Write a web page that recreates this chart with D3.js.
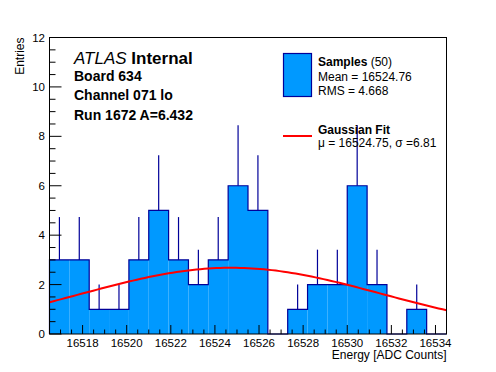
<!DOCTYPE html>
<html>
<head>
<meta charset="utf-8">
<script src="https://cdn.jsdelivr.net/npm/d3@7"></script>
<style>
  body { margin: 0; background: #fff; }
  text { font-family: "Liberation Sans", Arial, sans-serif; }
</style>
</head>
<body>
<script>
// histogram: 20 bins over the energy range
var xRange = [16516.5, 16534.5];
var counts = [3, 3, 1, 1, 3, 5, 3, 2, 3, 6, 5, 0, 1, 2, 2, 6, 2, 0, 1, 0];
var xTicks = [16518, 16520, 16522, 16524, 16526, 16528, 16530, 16532, 16534];
var yTicks = [0, 2, 4, 6, 8, 10, 12];

// gaussian fit parameters
var fitMu = 16524.75;
var fitSigma = 6.81;
var fitAmp = 2.68;

var infoLines = ["Board 634", "Channel 071 lo", "Run 1672 A=6.432"];

function init () {
  'use strict';
  var w = 496;
  var h = 372;
  var left = 49.5, right = 446.5, top = 37.5, bottom = 334;

  var svg = d3.select("body")
    .append("svg")
    .attr("width", w)
    .attr("height", h);

  var xScale = d3.scaleLinear()
    .domain(xRange)
    .range([left, right]);

  var yScale = d3.scaleLinear()
    .domain([0, 12])
    .range([bottom, top]);

  var binW = (xRange[1] - xRange[0]) / counts.length;
  var bins = counts.map(function(c, i) {
    return { x0: xRange[0] + i * binW, x1: xRange[0] + (i + 1) * binW, n: c };
  });

  // error bars (only the part above the bar shows)
  svg.selectAll("line.err")
    .data(bins.filter(function(d) { return d.n > 0; }))
    .enter()
    .append("line")
    .attr("class", "err")
    .attr("x1", function(d) { return xScale((d.x0 + d.x1) / 2); })
    .attr("x2", function(d) { return xScale((d.x0 + d.x1) / 2); })
    .attr("y1", function(d) { return yScale(d.n); })
    .attr("y2", function(d) { return yScale(d.n + Math.sqrt(d.n)); })
    .attr("stroke", "#000099")
    .attr("stroke-width", 1.2);

  // filled bars
  svg.selectAll("rect.bar")
    .data(bins.filter(function(d) { return d.n > 0; }))
    .enter()
    .append("rect")
    .attr("class", "bar")
    .attr("x", function(d) { return xScale(d.x0); })
    .attr("y", function(d) { return yScale(d.n); })
    .attr("width", function(d) { return xScale(d.x1) - xScale(d.x0); })
    .attr("height", function(d) { return yScale(0) - yScale(d.n); })
    .attr("fill", "#0099ff");

  // histogram outline as a step path
  var outline = [];
  bins.forEach(function(d) {
    outline.push([xScale(d.x0), yScale(d.n)]);
    outline.push([xScale(d.x1), yScale(d.n)]);
  });
  outline.unshift([xScale(xRange[0]), yScale(0)]);
  outline.push([xScale(xRange[1]), yScale(0)]);
  svg.append("path")
    .attr("d", d3.line()(outline))
    .attr("fill", "none")
    .attr("stroke", "#000099")
    .attr("stroke-width", 1.2);

  // fit curve
  var fitPts = d3.range(xRange[0], xRange[1] + 0.001, (xRange[1] - xRange[0]) / 100).map(function(x) {
    var z = (x - fitMu) / fitSigma;
    return [x, fitAmp * Math.exp(-0.5 * z * z)];
  });
  svg.append("path")
    .attr("d", d3.line()
      .x(function(d) { return xScale(d[0]); })
      .y(function(d) { return yScale(d[1]); })(fitPts))
    .attr("fill", "none")
    .attr("stroke", "#ff0000")
    .attr("stroke-width", 2);

  // frame
  svg.append("rect")
    .attr("x", left).attr("y", top)
    .attr("width", right - left).attr("height", bottom - top)
    .attr("fill", "none")
    .attr("stroke", "#000")
    .attr("stroke-width", 1);

  // x axis ticks (inward)
  var xMinor = d3.range(Math.ceil(xRange[0] * 2) / 2, xRange[1] + 0.001, 0.5);
  svg.selectAll("line.xt")
    .data(xMinor)
    .enter()
    .append("line")
    .attr("x1", function(d) { return xScale(d); })
    .attr("x2", function(d) { return xScale(d); })
    .attr("y1", bottom)
    .attr("y2", function(d) { return bottom - (d % 2 === 0 ? 9 : 4.5); })
    .attr("stroke", "#000");

  svg.selectAll("text.xl")
    .data(xTicks)
    .enter()
    .append("text")
    .attr("x", function(d) { return xScale(d); })
    .attr("y", 347)
    .attr("text-anchor", "middle")
    .attr("font-size", "11.5px")
    .text(function(d) { return d; });

  // y axis ticks (inward)
  var yMinor = d3.range(0, 12.001, 0.5);
  svg.selectAll("line.yt")
    .data(yMinor)
    .enter()
    .append("line")
    .attr("x1", left)
    .attr("x2", function(d) { return left + (d % 2 === 0 ? 12 : 6); })
    .attr("y1", function(d) { return yScale(d); })
    .attr("y2", function(d) { return yScale(d); })
    .attr("stroke", "#000");

  svg.selectAll("text.yl")
    .data(yTicks)
    .enter()
    .append("text")
    .attr("x", 45)
    .attr("y", function(d) { return yScale(d) + 4; })
    .attr("text-anchor", "end")
    .attr("font-size", "11.5px")
    .text(function(d) { return d; });

  // axis titles
  svg.append("text")
    .attr("x", right)
    .attr("y", 359)
    .attr("text-anchor", "end")
    .attr("font-size", "12px")
    .text("Energy [ADC Counts]");

  svg.append("text")
    .attr("transform", "translate(24," + top + ") rotate(-90)")
    .attr("text-anchor", "end")
    .attr("font-size", "12px")
    .text("Entries");

  // ATLAS label
  var atlas = svg.append("text")
    .attr("x", 74)
    .attr("y", 64)
    .attr("font-size", "17px");
  atlas.append("tspan").attr("font-style", "italic").text("ATLAS");
  atlas.append("tspan").attr("font-weight", "bold").text(" Internal");

  svg.selectAll("text.info")
    .data(infoLines)
    .enter()
    .append("text")
    .attr("x", 74)
    .attr("y", function(d, i) { return 81 + i * 19.3; })
    .attr("font-size", "14px")
    .attr("font-weight", "bold")
    .text(function(d) { return d; });

  // legend
  svg.append("rect")
    .attr("x", 283.5).attr("y", 53.5)
    .attr("width", 28).attr("height", 43)
    .attr("fill", "#0099ff")
    .attr("stroke", "#000099")
    .attr("stroke-width", 1.2);

  var lg1 = svg.append("text")
    .attr("x", 318).attr("y", 66)
    .attr("font-size", "12px");
  lg1.append("tspan").attr("font-weight", "bold").text("Samples");
  lg1.append("tspan").text(" (50)");

  svg.append("text").attr("x", 318).attr("y", 80.5)
    .attr("font-size", "12px").text("Mean = 16524.76");
  svg.append("text").attr("x", 318).attr("y", 94.5)
    .attr("font-size", "12px").text("RMS = 4.668");

  svg.append("line")
    .attr("x1", 283).attr("x2", 312)
    .attr("y1", 136).attr("y2", 136)
    .attr("stroke", "#ff0000")
    .attr("stroke-width", 2);

  svg.append("text").attr("x", 318).attr("y", 134)
    .attr("font-size", "12px").attr("font-weight", "bold").text("Gaussian Fit");
  svg.append("text").attr("x", 318).attr("y", 147)
    .attr("font-size", "12px").text("\u03bc = 16524.75, \u03c3 =6.81");
}

window.onload = init;
</script>
</body>
</html>
